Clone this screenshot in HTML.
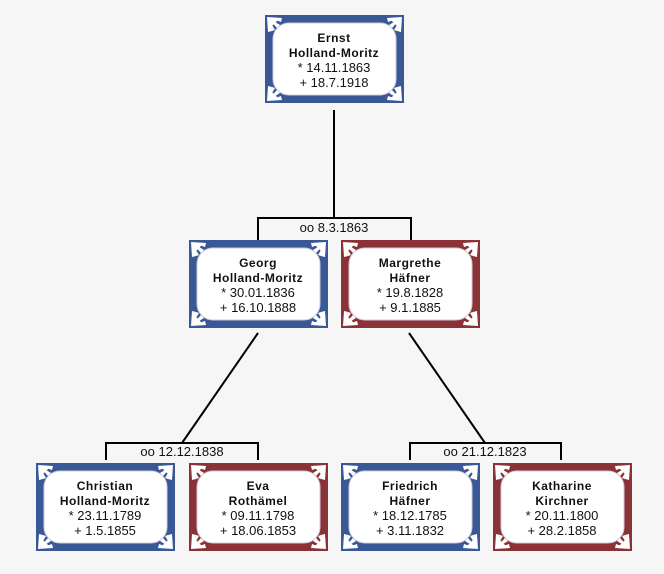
<!DOCTYPE html>
<html><head><meta charset="utf-8"><style>
html,body{margin:0;padding:0;background:#f6f6f6;}
svg{display:block;}
text{font-family:"Liberation Sans",sans-serif;font-size:13px;fill:#111;text-anchor:middle;}
.b{font-weight:bold;font-size:12px;letter-spacing:0.5px;}
</style></head><body>
<svg width="664" height="574" viewBox="0 0 664 574" xmlns="http://www.w3.org/2000/svg">
<defs>
<g id="fan" fill="#fff">
<polygon points="2,2 17,3 16,7"/>
<polygon points="2,2 15,10 12,13"/>
<polygon points="2,2 10,15 7,16"/>
<polygon points="2,2 3,17 7,16"/>
<polygon points="2,2 13,5 5,13"/>
</g>
<g id="box">
<rect x="0" y="0" width="139" height="88" fill="currentColor"/>
<rect x="8" y="8" width="123" height="72" rx="16" fill="#fff" stroke="#ccd" stroke-width="1"/>
<use href="#fan" transform="translate(0,0)"/>
<use href="#fan" transform="translate(139,0) scale(-1,1)"/>
<use href="#fan" transform="translate(0,88) scale(1,-1)"/>
<use href="#fan" transform="translate(139,88) scale(-1,-1)"/>
</g>
</defs>
<g stroke="#000" stroke-width="2" fill="none">
<line x1="334" y1="110" x2="334" y2="218"/>
<polyline points="258,241 258,218 411,218 411,241"/>
<line x1="258" y1="333" x2="182" y2="443"/>
<polyline points="106,460 106,443 258,443 258,460"/>
<line x1="409" y1="333" x2="485" y2="443"/>
<polyline points="410,460 410,443 561,443 561,460"/>
</g>
<text x="334" y="232">oo 8.3.1863</text>
<text x="182" y="456">oo 12.12.1838</text>
<text x="485" y="456">oo 21.12.1823</text>

<g style="color:#3b5896"><use href="#box" x="265" y="15"/></g>
<text class="b" x="334" y="42">Ernst</text><text class="b" x="334" y="57">Holland-Moritz</text>
<text x="334" y="72">* 14.11.1863</text><text x="334" y="87">+ 18.7.1918</text>

<g style="color:#3b5896"><use href="#box" x="189" y="240"/></g>
<text class="b" x="258" y="267">Georg</text><text class="b" x="258" y="282">Holland-Moritz</text>
<text x="258" y="297">* 30.01.1836</text><text x="258" y="312">+ 16.10.1888</text>

<g style="color:#8b3236"><use href="#box" x="341" y="240"/></g>
<text class="b" x="410" y="267">Margrethe</text><text class="b" x="410" y="282">Häfner</text>
<text x="410" y="297">* 19.8.1828</text><text x="410" y="312">+ 9.1.1885</text>

<g style="color:#3b5896"><use href="#box" x="36" y="463"/></g>
<text class="b" x="105" y="490">Christian</text><text class="b" x="105" y="505">Holland-Moritz</text>
<text x="105" y="520">* 23.11.1789</text><text x="105" y="535">+ 1.5.1855</text>

<g style="color:#8b3236"><use href="#box" x="189" y="463"/></g>
<text class="b" x="258" y="490">Eva</text><text class="b" x="258" y="505">Rothämel</text>
<text x="258" y="520">* 09.11.1798</text><text x="258" y="535">+ 18.06.1853</text>

<g style="color:#3b5896"><use href="#box" x="341" y="463"/></g>
<text class="b" x="410" y="490">Friedrich</text><text class="b" x="410" y="505">Häfner</text>
<text x="410" y="520">* 18.12.1785</text><text x="410" y="535">+ 3.11.1832</text>

<g style="color:#8b3236"><use href="#box" x="493" y="463"/></g>
<text class="b" x="562" y="490">Katharine</text><text class="b" x="562" y="505">Kirchner</text>
<text x="562" y="520">* 20.11.1800</text><text x="562" y="535">+ 28.2.1858</text>
</svg>
</body></html>
